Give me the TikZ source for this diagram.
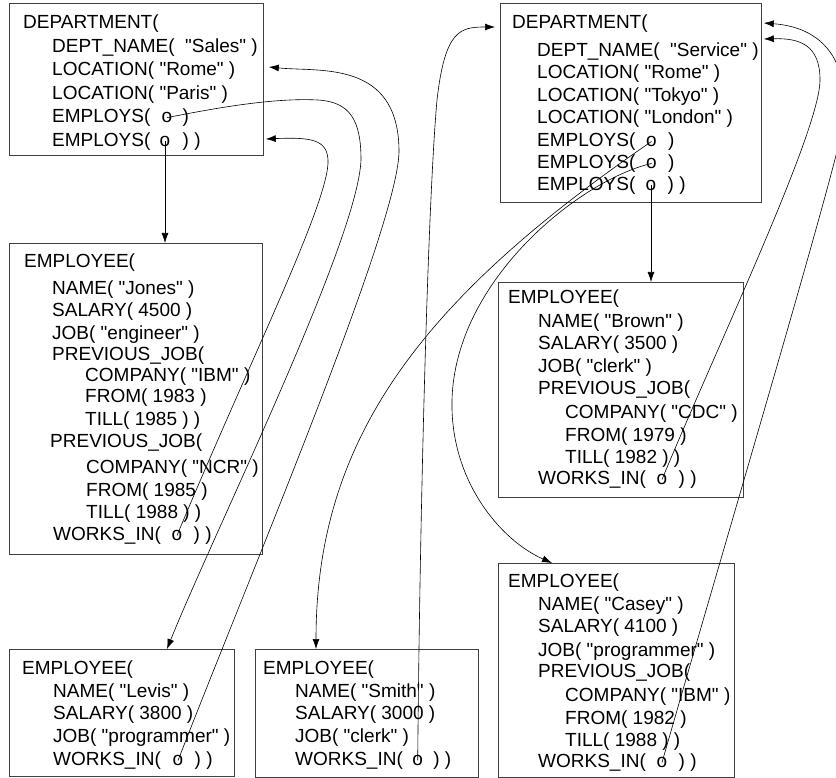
\documentclass[tikz,border=0pt]{standalone}
\usepackage{fontspec}
\newfontfamily\boxfont{Liberation Sans}
\usetikzlibrary{arrows.meta,positioning,calc}

\begin{document}
\begin{tikzpicture}[x=1pt, y=-1pt, >={Latex[length=10pt,width=7pt]},
    every node/.style={font=\boxfont\fontsize{19}{23}\selectfont, inner sep=0pt},
    txt/.style={anchor=base west},
    ptr/.style={anchor=base},
    obj/.style={draw=black!75, line width=0.8pt, anchor=north west},
    link/.style={->, line width=0.6pt}]
    \clip (0,0) rectangle (836,778);

    % Department Sales
    \node[obj, minimum width=254pt, minimum height=152pt] (sales) at (9,3) {};
    \node[txt] (s1) at (23,28.5) {DEPARTMENT(};
    \node[txt] (s2) at (52,52.5) {DEPT\_NAME(\ \ "Sales" )};
    \node[txt] (s3) at (52,75.9) {LOCATION( "Rome" )};
    \node[txt] (s4) at (52,99.3) {LOCATION( "Paris" )};
    \node[txt] (s5) at (52,122.7) {EMPLOYS(};
    \node[ptr] (so1) at (167,122.7) {o};
    \node[txt, base right=10pt of so1] (s5x) {)};
    \node[txt] (s6) at (52,146.1) {EMPLOYS(};
    \node[ptr] (so2) at (165,146.1) {o};
    \node[txt, base right=12pt of so2] (s6x) {) )};

    % Department Service
    \node[obj, minimum width=261pt, minimum height=199pt] (service) at (500,3) {};
    \node[txt] (v1) at (512,29) {DEPARTMENT(};
    \node[txt] (v2) at (537,56.5) {DEPT\_NAME(\ \ "Service" )};
    \node[txt] (v3) at (537,79) {LOCATION( "Rome" )};
    \node[txt] (v4) at (537,101.5) {LOCATION( "Tokyo" )};
    \node[txt] (v5) at (537,124) {LOCATION( "London" )};
    \node[txt] (v6) at (537,146.5) {EMPLOYS(};
    \node[ptr] (vo1) at (651.5,146.5) {o};
    \node[txt, base right=11pt of vo1] (v6x) {)};
    \node[txt] (v7) at (537,168.5) {EMPLOYS(};
    \node[ptr] (vo2) at (651.5,168.5) {o};
    \node[txt, base right=11pt of vo2] (v7x) {)};
    \node[txt] (v8) at (537,190.5) {EMPLOYS(};
    \node[ptr] (vo3) at (651,190.5) {o};
    \node[txt, base right=11pt of vo3] (v8x) {) )};

    % Employee Jones
    \node[obj, minimum width=253pt, minimum height=311pt] (jones) at (9,243) {};
    \node[txt] (j1) at (24,267.5) {EMPLOYEE(};
    \node[txt] (j2) at (52,294.5) {NAME( "Jones" )};
    \node[txt] (j3) at (52,316.5) {SALARY( 4500 )};
    \node[txt] (j4) at (52,339) {JOB( "engineer" )};
    \node[txt] (j5) at (52,360.5) {PREVIOUS\_JOB(};
    \node[txt] (j6) at (85,381.5) {COMPANY( "IBM" )};
    \node[txt] (j7) at (85,402.5) {FROM( 1983 )};
    \node[txt] (j8) at (85,425.5) {TILL( 1985 ) )};
    \node[txt] (j9) at (50,447.5) {PREVIOUS\_JOB(};
    \node[txt] (j10) at (86,473.5) {COMPANY( "NCR" )};
    \node[txt] (j11) at (86,496.5) {FROM( 1985 )};
    \node[txt] (j12) at (86,518.5) {TILL( 1988 ) )};
    \node[txt] (j13) at (53,540.5) {WORKS\_IN(};
    \node[ptr] (jo) at (177,540.5) {o};
    \node[txt, base right=11pt of jo] (j13x) {) )};

    % Employee Brown
    \node[obj, minimum width=245pt, minimum height=215pt] (brown) at (498,282) {};
    \node[txt] (b1) at (508,304) {EMPLOYEE(};
    \node[txt] (b2) at (538,327.5) {NAME( "Brown" )};
    \node[txt] (b3) at (538,349.5) {SALARY( 3500 )};
    \node[txt] (b4) at (538,372.5) {JOB( "clerk" )};
    \node[txt] (b5) at (538,394.5) {PREVIOUS\_JOB(};
    \node[txt] (b6) at (565,418.5) {COMPANY( "CDC" )};
    \node[txt] (b7) at (565,441.5) {FROM( 1979 )};
    \node[txt] (b8) at (565,463.5) {TILL( 1982 ) )};
    \node[txt] (b9) at (538,484.5) {WORKS\_IN(};
    \node[ptr] (bo) at (662,484.5) {o};
    \node[txt, base right=11pt of bo] (b9x) {) )};

    % Employee Levis
    \node[obj, minimum width=225pt, minimum height=127pt] (levis) at (9,649) {};
    \node[txt] (l1) at (22,674) {EMPLOYEE(};
    \node[txt] (l2) at (53,697.5) {NAME( "Levis" )};
    \node[txt] (l3) at (53,719.5) {SALARY( 3800 )};
    \node[txt] (l4) at (53,742.5) {JOB( "programmer" )};
    \node[txt] (l5) at (53,765.5) {WORKS\_IN(};
    \node[ptr] (lo) at (178,765.5) {o};
    \node[txt, base right=11pt of lo] (l5x) {) )};

    % Employee Smith
    \node[obj, minimum width=223pt, minimum height=128pt] (smith) at (255,649) {};
    \node[txt] (m1) at (263,674) {EMPLOYEE(};
    \node[txt] (m2) at (295,697.5) {NAME( "Smith" )};
    \node[txt] (m3) at (295,719.5) {SALARY( 3000 )};
    \node[txt] (m4) at (295,742.5) {JOB( "clerk" )};
    \node[txt] (m5) at (295,765.5) {WORKS\_IN(};
    \node[ptr] (mo) at (417.7,765.5) {o};
    \node[txt, base right=10pt of mo] (m5x) {) )};

    % Employee Casey
    \node[obj, minimum width=236pt, minimum height=214pt] (casey) at (498,563) {};
    \node[txt] (c1) at (508,587.5) {EMPLOYEE(};
    \node[txt] (c2) at (538,610.5) {NAME( "Casey" )};
    \node[txt] (c3) at (538,632.5) {SALARY( 4100 )};
    \node[txt] (c4) at (538,656) {JOB( "programmer" )};
    \node[txt] (c5) at (538,677.5) {PREVIOUS\_JOB(};
    \node[txt] (c6) at (565,701) {COMPANY( "IBM" )};
    \node[txt] (c7) at (565,724) {FROM( 1982 )};
    \node[txt] (c8) at (565,746.5) {TILL( 1988 ) )};
    \node[txt] (c9) at (538,767.5) {WORKS\_IN(};
    \node[ptr] (co) at (662,767.5) {o};
    \node[txt, base right=11pt of co] (c9x) {) )};

    % EMPLOYS pointers
    \draw[link] (so2.center) -- (so2 |- jones.north);
    \draw[link] (so1.center) .. controls (230,105) and (280,98) .. (318,100)
        .. controls (350,102) and (361,120) .. (361,160)
        .. controls (358,240) and (215,530) .. (so1 |- levis.north);
    \draw[link] (vo3.center) -- (vo3 |- brown.north);
    \draw[link] (vo1.center) .. controls (420,300) and (316,440) .. ($(smith.north west)+(61,0)$);
    \draw[link] (vo2.center) .. controls (580,180) and (455,280) .. (452,400)
        .. controls (450,480) and (500,540) .. ($(casey.north west)+(54,0)$);

    % WORKS_IN pointers
    \draw[link] (jo.center) .. controls (250,360) and (330,200) .. (328,160)
        .. controls (327,140) and (312,137) .. ($(sales.north east)+(2,136)$);
    \draw[link] (lo.center) .. controls (260,550) and (400,220) .. (399,150)
        .. controls (398,60) and (320,72) .. ($(sales.north east)+(5,64)$);
    \draw[link] (mo.center) .. controls (420,500) and (428,200) .. (437,100)
        .. controls (445,30) and (460,27) .. ($(service.north west)+(-5,24)$);
    \draw[link] (bo.center) .. controls (720,340) and (820,130) .. (820,80)
        .. controls (820,45) and (800,38) .. ($(service.north east)+(2,36)$);
    \draw[link] (co.center) .. controls (720,560) and (830,190) .. (842,130)
        .. controls (852,70) and (830,28) .. ($(service.north east)+(2,20)$);
\end{tikzpicture}
\end{document}
